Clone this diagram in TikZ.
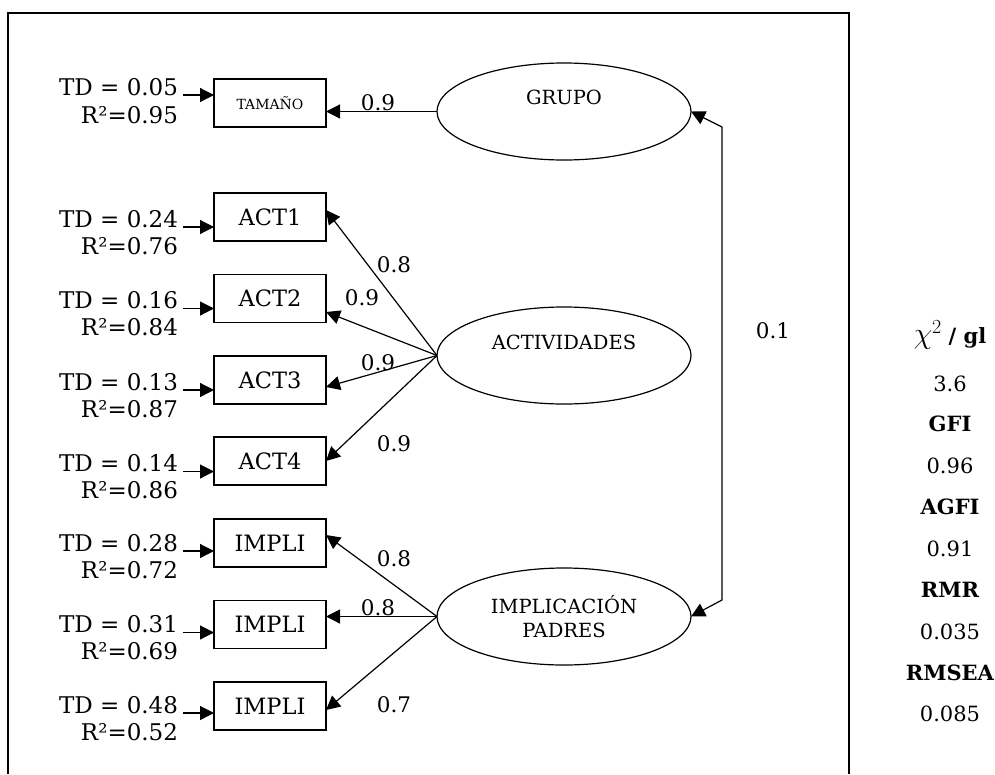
\RequirePackage{fix-cm}
\documentclass[tikz,border=0pt]{standalone}
\usepackage{fontspec}
\setmainfont{DejaVu Serif}
\usetikzlibrary{arrows.meta,shapes.geometric}
\begin{document}
\begin{tikzpicture}[x=1pt,y=-1pt,
  every node/.style={inner sep=0pt, outer sep=0pt},
  obs/.style={draw, line width=1.3pt, minimum width=112pt, minimum height=48pt, font=\fontsize{22.5}{26}\selectfont},
  lat/.style={draw, ellipse, line width=1.2pt, minimum width=254pt, minimum height=97pt, font=\fontsize{19.5}{24}\selectfont, align=center},
  tdlab/.style={anchor=base east, font=\fontsize{23}{27}\selectfont},
  coef/.style={font=\fontsize{21.5}{25}\selectfont},
  stat/.style={anchor=base, font=\fontsize{21}{25}\selectfont},
  tip/.tip={Triangle[length=14pt,width=14pt]},
  arr/.style={-tip, line width=1.2pt},
  arrtwo/.style={tip-tip, line width=1.2pt},
]
\useasboundingbox (0,0) rectangle (995,774);
% frame
\draw[line width=1.5pt] (8,774) -- (8,13) -- (849,13) -- (849,774);

% observed boxes
\node[obs] (t)  at (270,103)   {\fontsize{14}{17}\selectfont TAMAÑO};
\node[obs] (a1) at (270,217)   {ACT1};
\node[obs] (a2) at (270,298.5) {ACT2};
\node[obs] (a3) at (270,380)   {ACT3};
\node[obs] (a4) at (270,461)   {ACT4};
\node[obs] (i1) at (270,543)   {IMPLI};
\node[obs] (i2) at (270,624.5) {IMPLI};
\node[obs] (i3) at (270,706)   {IMPLI};

% latent ellipses
\node[lat, text height=14pt, text depth=29pt] (g)   at (564,111.5) {GRUPO};
\node[lat, text height=14pt, text depth=27pt] (act) at (564,355.5) {ACTIVIDADES};
\node[lat] (imp) at (564,616.5) {IMPLICACIÓN\\PADRES};

% error labels
\node[tdlab] (tdt) at (178,95)    {TD = 0.05};  \node[tdlab] (rt) at (178,123)   {R²=0.95};
\node[tdlab] (td1) at (178,227)   {TD = 0.24};  \node[tdlab] (r1) at (178,254)   {R²=0.76};
\node[tdlab] (td2) at (178,308.5) {TD = 0.16};  \node[tdlab] (r2) at (178,335.5) {R²=0.84};
\node[tdlab] (td3) at (178,390)   {TD = 0.13};  \node[tdlab] (r3) at (178,417)   {R²=0.87};
\node[tdlab] (td4) at (178,471.5) {TD = 0.14};  \node[tdlab] (r4) at (178,498.5) {R²=0.86};
\node[tdlab] (td5) at (178,551)   {TD = 0.28};  \node[tdlab] (r5) at (178,578)   {R²=0.72};
\node[tdlab] (td6) at (178,632.5) {TD = 0.31};  \node[tdlab] (r6) at (178,659.5) {R²=0.69};
\node[tdlab] (td7) at (178,713)   {TD = 0.48};  \node[tdlab] (r7) at (178,740)   {R²=0.52};

\foreach \e/\b in {tdt/t, td1/a1, td2/a2, td3/a3, td4/a4, td5/i1, td6/i2, td7/i3}
  \draw[arr] ([xshift=5pt]\e.base east) -- (\e.base east -| \b.west);

% loadings
\draw[arr] (g.west) -- (g.west -| t.east);
\draw[arr] (act.west) -- ([yshift=7pt]a1.east);
\draw[arr] (act.west) -- ([yshift=-13.5pt]a2.east);
\draw[arr] (act.west) -- ([yshift=-7pt]a3.east);
\draw[arr] (act.west) -- (a4.east);
\draw[arr] (imp.west) -- ([yshift=8pt]i1.east);
\draw[arr] (imp.west) -- (imp.west -| i2.east);
\draw[arr] (imp.west) -- ([yshift=-4pt]i3.east);

% correlation
\coordinate (c1) at (722,127);
\coordinate (c2) at (722,600);
\draw[arrtwo] (g.east) -- (c1) -- (c2) -- (imp.east);

% coefficient labels
\node[coef] (l0) at (378,103) {0.9};
\node[coef] (l1) at (394,265) {0.8};
\node[coef] (l2) at (362,298) {0.9};
\node[coef] (l3) at (378,363) {0.9};
\node[coef] (l4) at (394,444) {0.9};
\node[coef] (l5) at (394,559) {0.8};
\node[coef] (l6) at (378,608) {0.8};
\node[coef] (l7) at (394,705) {0.7};
\node[coef] (l8) at (773,331) {0.1};

% fit statistics
\node[stat] (s0) at (950,343) {{\fontsize{30}{30}\selectfont$\chi$}\raisebox{10pt}{\fontsize{20}{20}\selectfont$2$}\textbf{\ / gl}};
\node[stat] (s1) at (950,391) {3.6};
\node[stat] (s2) at (950,431) {\textbf{GFI}};
\node[stat] (s3) at (950,473) {0.96};
\node[stat] (s4) at (950,514) {\textbf{AGFI}};
\node[stat] (s5) at (950,556) {0.91};
\node[stat] (s6) at (950,597) {\textbf{RMR}};
\node[stat] (s7) at (950,639) {0.035};
\node[stat] (s8) at (950,680) {\textbf{RMSEA}};
\node[stat] (s9) at (950,721) {0.085};
\end{tikzpicture}
\end{document}
